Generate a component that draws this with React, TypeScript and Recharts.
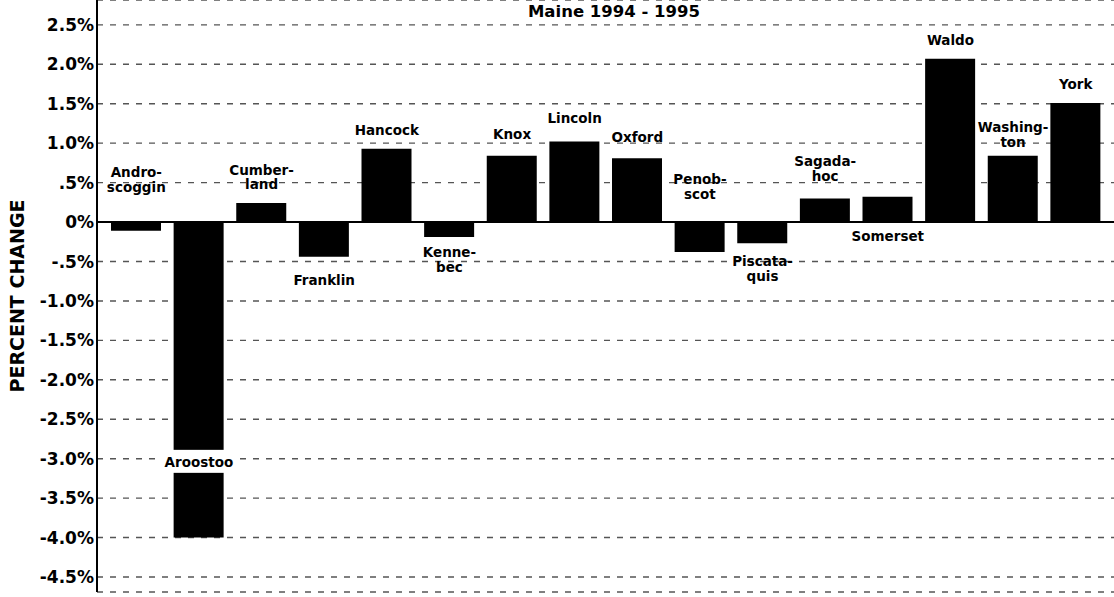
import { ComposedChart, Bar, Scatter, XAxis, YAxis, CartesianGrid, ReferenceLine } from 'recharts'

const counties = [
  'Androscoggin', 'Aroostook', 'Cumberland', 'Franklin', 'Hancock', 'Kennebec', 'Knox', 'Lincoln',
  'Oxford', 'Penobscot', 'Piscataquis', 'Sagadahoc', 'Somerset', 'Waldo', 'Washington', 'York',
]
const percentChange = [-0.11, -4.0, 0.24, -0.44, 0.93, -0.19, 0.84, 1.02, 0.81, -0.38, -0.27, 0.3, 0.32, 2.07, 0.84, 1.51]
const labelLines = [
  ['Andro-', 'scoggin'], ['Aroostoo'], ['Cumber-', 'land'], ['Franklin'], ['Hancock'], ['Kenne-', 'bec'],
  ['Knox'], ['Lincoln'], ['Oxford'], ['Penob-', 'scot'], ['Piscata-', 'quis'], ['Sagada-', 'hoc'],
  ['Somerset'], ['Waldo'], ['Washing-', 'ton'], ['York'],
]
// value (in %) where the first line of each label sits
const labelAt = [0.63, -3.04, 0.66, -0.74, 1.17, -0.38, 1.12, 1.32, 1.08, 0.54, -0.5, 0.77, -0.18, 2.31, 1.2, 1.75]

const yTicks = [2.5, 2, 1.5, 1, 0.5, 0, -0.5, -1, -1.5, -2, -2.5, -3, -3.5, -4, -4.5]
const yTickLabels = ['2.5%', '2.0%', '1.5%', '1.0%', '.5%', '0%', '-.5%', '-1.0%', '-1.5%', '-2.0%', '-2.5%', '-3.0%', '-3.5%', '-4.0%', '-4.5%']

const data = counties.map((name, i) => ({
  name,
  value: percentChange[i],
  labelY: labelAt[i],
  lines: labelLines[i],
}))

const FONT = '"DejaVu Sans", Arial, sans-serif'

const CountyLabel = (props: any) => {
  const { cx, cy, payload } = props
  const lines: string[] = payload.lines
  const inside = payload.value < 0 && payload.labelY < 0 && payload.labelY > payload.value
  return (
    <g>
      {inside && <rect x={cx - 40} y={cy - 12} width={80} height={23} fill="#fff" />}
      {lines.map((t, k) => (
        <text
          key={k}
          x={cx}
          y={cy + k * 14.5}
          textAnchor="middle"
          dominantBaseline="central"
          fontFamily={FONT}
          fontWeight="bold"
          fontSize={13.5}
          fill="#000"
        >
          {t}
        </text>
      ))}
    </g>
  )
}

export default function App() {
  return (
    <div style={{ position: 'absolute', left: 0, top: 0, width: 1114, height: 597, background: '#fff' }}>
      <ComposedChart width={1114} height={597} data={data} margin={{ top: 0, right: 0, bottom: 5, left: 0 }}>
        <CartesianGrid vertical={false} stroke="#555" strokeWidth={1.4} strokeDasharray="6 7" />
        <XAxis dataKey="name" hide padding={{ left: 8, right: 7 }} />
        <YAxis
          width={97}
          domain={[-4.69, 2.815]}
          ticks={yTicks}
          interval={0}
          allowDataOverflow
          tickFormatter={(v: number) => yTickLabels[yTicks.indexOf(v)] ?? ''}
          tickLine={false}
          tickSize={0}
          tickMargin={3}
          axisLine={{ stroke: '#000', strokeWidth: 2 }}
          tick={{ fontFamily: FONT, fontWeight: 'bold', fontSize: 17, fill: '#000' }}
        />
        <Bar dataKey="value" fill="#000" barSize={50} isAnimationActive={false} />
        <ReferenceLine y={0} stroke="#000" strokeWidth={2} />
        <Scatter dataKey="labelY" shape={CountyLabel} isAnimationActive={false} />
      </ComposedChart>
      <svg width={1114} height={597} style={{ position: 'absolute', left: 0, top: 0, pointerEvents: 'none' }}>
        <text x={614} y={17} textAnchor="middle" fontFamily={FONT} fontWeight="bold" fontSize={16.5} fill="#000">
          Maine 1994 - 1995
        </text>
        <text
          x={0}
          y={0}
          transform="translate(24 296) rotate(-90)"
          textAnchor="middle"
          fontFamily={FONT}
          fontWeight="bold"
          fontSize={19}
          fill="#000"
        >
          PERCENT  CHANGE
        </text>
      </svg>
    </div>
  )
}
